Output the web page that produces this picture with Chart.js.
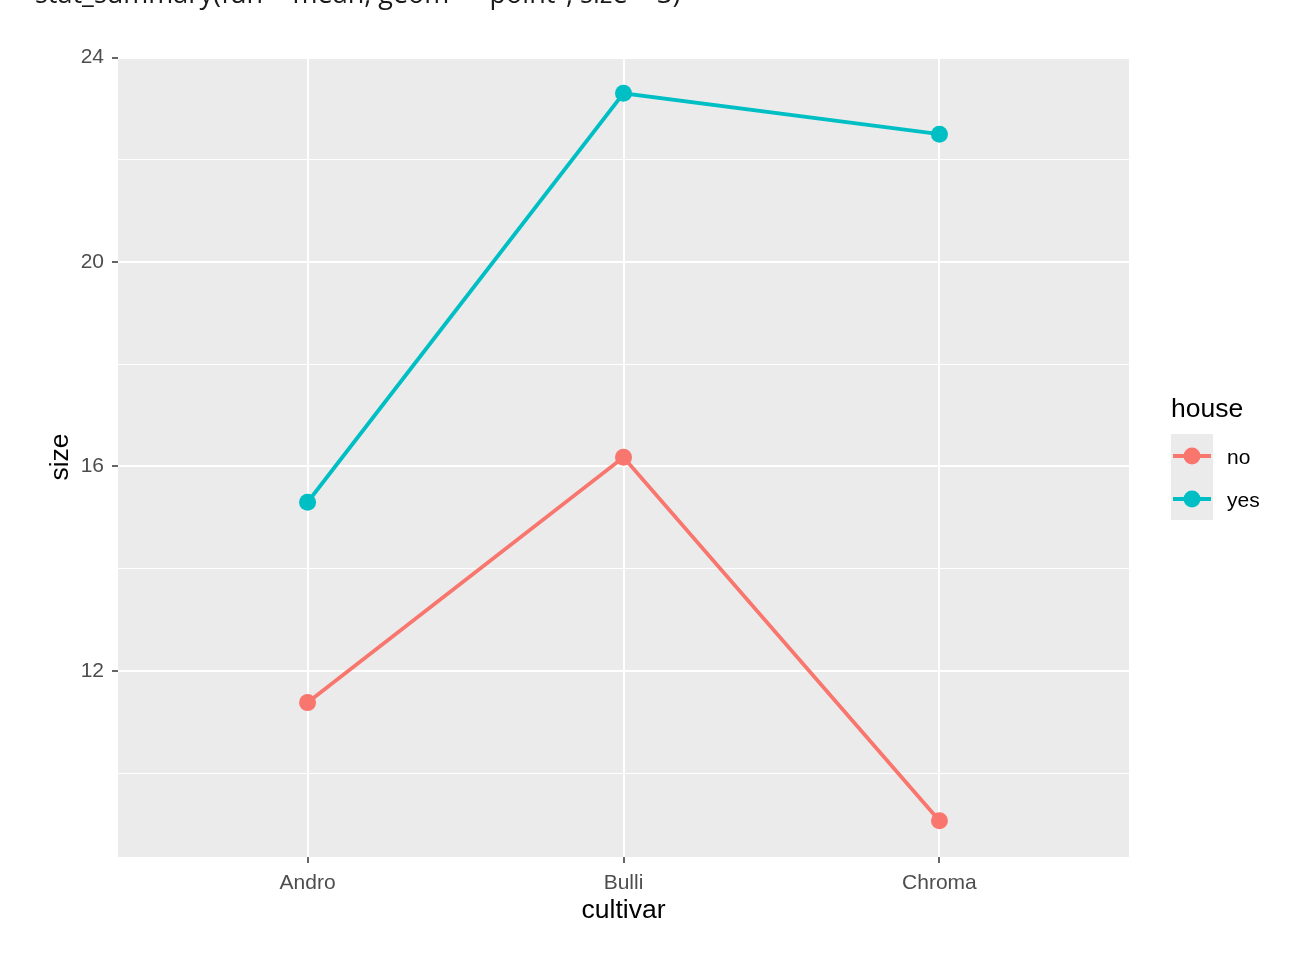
<!DOCTYPE html>
<html>
<head>
<meta charset="utf-8">
<script src="https://cdn.jsdelivr.net/npm/chart.js@4/dist/chart.umd.min.js"></script>
<style>
    body { margin: 0; background: #fff; }
    #wrap { position: relative; width: 1309px; height: 965px; }
</style>
</head>
<body>
<div id="wrap"><canvas id="chart" width="1309" height="965"></canvas></div>
<script>
// Data (means of size per cultivar, by house)
const cultivars = ['Andro', 'Bulli', 'Chroma'];
const sizeNo = [11.38, 16.18, 9.07];
const sizeYes = [15.30, 23.30, 22.50];
const yTicks = [10, 12, 14, 16, 18, 20, 22, 24];
const yLabelEvery = 4;
const houseLabels = ['no', 'yes'];
const houseColors = ['#F8766D', '#00BFC4'];
const codeLine = 'stat_summary(fun = mean, geom = "point", size = 3)';

const tickFont = { family: 'Liberation Sans, Arial', size: 21 };

function toPoints(values) {
    return values.map((v, i) => ({ x: i, y: v }));
}

// Grey panel behind the grid
const panelBg = {
    id: 'panelBg',
    beforeDraw(chart) {
        const { ctx, chartArea: a } = chart;
        ctx.save();
        ctx.fillStyle = '#EBEBEB';
        ctx.fillRect(a.left, a.top, a.right - a.left, a.bottom - a.top);
        ctx.restore();
    }
};

// Axis titles, legend and the clipped code line at the top
const extras = {
    id: 'extras',
    afterDraw(chart) {
        const { ctx, chartArea: a } = chart;
        ctx.save();

        // clipped console text at top
        ctx.fillStyle = '#1a1a1a';
        ctx.font = '27px "Open Sans"';
        ctx.textAlign = 'left';
        ctx.textBaseline = 'alphabetic';
        ctx.fillText(codeLine, 35, 3);

        // axis titles
        ctx.fillStyle = '#000';
        ctx.font = '26.5px "Liberation Sans", Arial';
        ctx.textAlign = 'center';
        ctx.textBaseline = 'middle';
        ctx.fillText('cultivar', (a.left + a.right) / 2, 911);
        ctx.save();
        ctx.translate(61, (a.top + a.bottom) / 2);
        ctx.rotate(-Math.PI / 2);
        ctx.fillText('size', 0, 0);
        ctx.restore();

        // legend
        ctx.textAlign = 'left';
        ctx.fillText('house', 1171, 410);
        ctx.fillStyle = '#EBEBEB';
        ctx.fillRect(1171, 434, 42, 86);
        ctx.font = '21px "Liberation Sans", Arial';
        chart.data.datasets.forEach((ds, i) => {
            const cy = 456 + i * 43;
            ctx.strokeStyle = ds.borderColor;
            ctx.lineWidth = 3.8;
            ctx.beginPath();
            ctx.moveTo(1173, cy);
            ctx.lineTo(1211, cy);
            ctx.stroke();
            ctx.fillStyle = ds.borderColor;
            ctx.beginPath();
            ctx.arc(1192, cy, 8.5, 0, Math.PI * 2);
            ctx.fill();
            ctx.fillStyle = '#000';
            ctx.fillText(ds.label, 1227, cy + 2);
        });
        ctx.restore();
    }
};

const chart = new Chart(document.getElementById('chart'), {
    type: 'line',
    data: {
        datasets: [
            { label: houseLabels[0], data: toPoints(sizeNo), borderColor: houseColors[0], backgroundColor: houseColors[0] },
            { label: houseLabels[1], data: toPoints(sizeYes), borderColor: houseColors[1], backgroundColor: houseColors[1] }
        ]
    },
    options: {
        responsive: false,
        animation: false,
        layout: { padding: { top: 57, right: 180, bottom: 0, left: 0 } },
        elements: {
            line: { borderWidth: 3.8, tension: 0 },
            point: { radius: 8.5, borderWidth: 0, hoverRadius: 8.5 }
        },
        plugins: {
            legend: { display: false },
            tooltip: { enabled: false }
        },
        scales: {
            x: {
                type: 'linear',
                min: -0.6,
                max: 2.6,
                afterBuildTicks: scale => {
                    scale.ticks = cultivars.map((c, i) => ({ value: i }));
                },
                afterFit: scale => { scale.height = 108; },
                border: { display: false },
                grid: { color: '#FFFFFF', lineWidth: 2, tickColor: '#333333', tickLength: 6, tickWidth: 1.5 },
                ticks: {
                    color: '#4D4D4D',
                    font: tickFont,
                    padding: 8,
                    maxRotation: 0,
                    callback: v => cultivars[v]
                }
            },
            y: {
                min: 8.36,
                max: 24.01,
                afterBuildTicks: scale => {
                    scale.ticks = yTicks.map(v => ({ value: v }));
                },
                afterFit: scale => { scale.width = 118; },
                border: { display: false },
                grid: {
                    color: '#FFFFFF',
                    lineWidth: c => (c.tick && c.tick.value % yLabelEvery === 0 ? 2 : 1),
                    tickColor: c => (c.tick && c.tick.value % yLabelEvery === 0 ? '#333333' : 'rgba(0,0,0,0)'),
                    tickLength: 6,
                    tickWidth: 1.5
                },
                ticks: {
                    color: '#4D4D4D',
                    font: tickFont,
                    padding: 8,
                    callback: v => (v % yLabelEvery === 0 ? v : '')
                }
            }
        }
    },
    plugins: [panelBg, extras]
});
</script>
</body>
</html>
